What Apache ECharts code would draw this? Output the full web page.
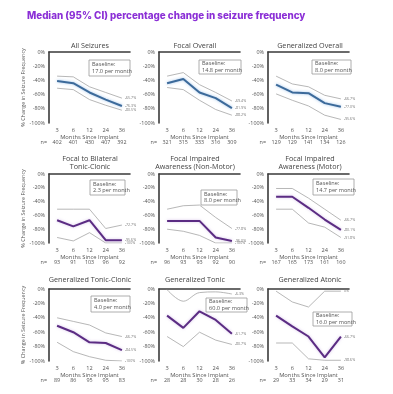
<!DOCTYPE html>
<html><head><meta charset="utf-8">
<script src="https://cdn.jsdelivr.net/npm/echarts@6/dist/echarts.min.js"></script>
<style>html,body{margin:0;padding:0;background:#fff}#c{width:393px;height:394px}</style>
</head><body><div id="c"></div>
<script>
// ---------- DATA ----------
const months = ['3', '6', '12', '24', '36'];
const chartTitle = 'Median (95% CI) percentage change in seizure frequency';
const panelTitles = ['All Seizures', 'Focal Overall', 'Generalized Overall',
  'Focal to Bilateral\nTonic-Clonic', 'Focal Impaired\nAwareness (Non-Motor)', 'Focal Impaired\nAwareness (Motor)',
  'Generalized Tonic-Clonic', 'Generalized Tonic', 'Generalized Atonic'];
const baselines = ['17.0', '14.8', '8.0', '2.3', '8.0', '14.7', '4.0', '60.0', '16.0'];

const allSeizuresMedian = [-41, -44, -57, -67, -76];
const allSeizuresUpper  = [-34, -35, -49, -57, -65];
const allSeizuresLower  = [-51, -53, -67, -75, -82];
const allSeizuresN      = [402, 401, 430, 407, 392];
const allSeizuresEnd    = ['-65.7%', '-76.3%', '-80.5%'];

const focalOverallMedian = [-44, -38, -57, -65, -79];
const focalOverallUpper  = [-34, -29, -46, -57, -69];
const focalOverallLower  = [-50, -53, -68, -81, -89];
const focalOverallN      = [321, 315, 333, 316, 309];
const focalOverallEnd    = ['-69.4%', '-81.9%', '-88.2%'];

const genOverallMedian = [-46, -57, -58, -72, -77];
const genOverallUpper  = [-34, -45, -49, -61, -66];
const genOverallLower  = [-59, -68, -76, -89, -95];
const genOverallN      = [129, 129, 141, 134, 126];
const genOverallEnd    = ['-66.7%', '-77.0%', '-95.6%'];

const fbtcMedian = [-67, -76, -67, -96, -96];
const fbtcUpper  = [-51, -51, -51, -79, -74];
const fbtcLower  = [-92, -97, -85, -100, -100];
const fbtcN      = [93, 91, 103, 96, 92];
const fbtcEnd    = ['-72.7%', '-95.6%', '-100%'];

const fiaNonMotorMedian = [-68, -68, -68, -92, -97];
const fiaNonMotorUpper  = [-51, -46, -45, -63, -79];
const fiaNonMotorLower  = [-80, -83, -89, -100, -100];
const fiaNonMotorN      = [96, 93, 93, 92, 90];
const fiaNonMotorEnd    = ['-77.8%', '-96.0%', '-100%'];

const fiaMotorMedian = [-33, -33, -49, -66, -81];
const fiaMotorUpper  = [-21, -21, -35, -51, -67];
const fiaMotorLower  = [-51, -51, -71, -77, -92];
const fiaMotorN      = [167, 165, 173, 161, 160];
const fiaMotorEnd    = ['-66.7%', '-80.1%', '-91.8%'];

const gtcMedian = [-51, -60, -74, -75, -85];
const gtcUpper  = [-40, -45, -50, -61, -66];
const gtcLower  = [-74, -87, -94, -99, -100];
const gtcN      = [89, 86, 95, 95, 83];
const gtcEnd    = ['-66.7%', '-84.5%', '-100%'];

const genTonicMedian = [-37, -54, -31, -43, -62];
const genTonicUpper  = [-1, -17, -5, -4, -7];
const genTonicLower  = [-66, -80, -60, -71, -77];
const genTonicN      = [28, 28, 30, 28, 26];
const genTonicEnd    = ['-6.3%', '-61.7%', '-80.7%'];

const genAtonicMedian = [-37, -52, -66, -95, -66];
const genAtonicUpper  = [-3, -18, -25, -3, -3];
const genAtonicLower  = [-75, -75, -97, -99, -99];
const genAtonicN      = [29, 33, 34, 29, 31];
const genAtonicEnd    = ['0%', '-66.7%', '-98.6%'];

const panels = [
  [allSeizuresMedian, allSeizuresUpper, allSeizuresLower, allSeizuresN, allSeizuresEnd],
  [focalOverallMedian, focalOverallUpper, focalOverallLower, focalOverallN, focalOverallEnd],
  [genOverallMedian, genOverallUpper, genOverallLower, genOverallN, genOverallEnd],
  [fbtcMedian, fbtcUpper, fbtcLower, fbtcN, fbtcEnd],
  [fiaNonMotorMedian, fiaNonMotorUpper, fiaNonMotorLower, fiaNonMotorN, fiaNonMotorEnd],
  [fiaMotorMedian, fiaMotorUpper, fiaMotorLower, fiaMotorN, fiaMotorEnd],
  [gtcMedian, gtcUpper, gtcLower, gtcN, gtcEnd],
  [genTonicMedian, genTonicUpper, genTonicLower, genTonicN, genTonicEnd],
  [genAtonicMedian, genAtonicUpper, genAtonicLower, genAtonicN, genAtonicEnd]
];

// ---------- LAYOUT / STYLE ----------
const FONT = 'Open Sans';
const colLeft = [49, 159, 268];
const colCenter = [90, 195, 310];
const rowTop = [52, 174, 289];
const rowHeight = [71, 69, 72];
const rowTitleY = [46, 163, 280];
const plotW = 81;
const boxes = [
  [89, 60, 41, 16], [199, 60, 42, 14], [312, 60, 39, 14],
  [90, 180, 35, 15], [201, 190, 36, 15], [313, 179, 41, 16],
  [91, 296, 39, 16], [206, 298, 41, 14], [313, 312, 39, 14]
];
const blue = '#3c6a9a', purple = '#5b2c83', ciColor = '#a5a5a5';

const grid = [], xAxis = [], yAxis = [], series = [], graphic = [];

graphic.push({type: 'text', left: 27, top: 11, style: {text: chartTitle, fill: '#8b2fd6',
  font: '800 9.8px Inter, "Open Sans", sans-serif'}});

panels.forEach((p, i) => {
  const r = Math.floor(i / 3), c = i % 3;
  const [med, up, lo, nArr, ends] = p;
  grid.push({left: colLeft[c], top: rowTop[r], width: plotW, height: rowHeight[r], containLabel: false});
  xAxis.push({
    gridIndex: i, type: 'category', data: months, boundaryGap: true,
    axisLine: {lineStyle: {color: '#3a3a3a', width: 1.6}}, axisTick: {show: false},
    axisLabel: {fontSize: 5.6, color: '#555', margin: 4, fontFamily: FONT},
    name: 'Months Since Implant', nameLocation: 'middle', nameGap: 11,
    nameTextStyle: {fontSize: 5.8, color: '#555', fontFamily: FONT}
  });
  xAxis.push({
    gridIndex: i, type: 'category', data: nArr.map(String), boundaryGap: true, position: 'bottom', offset: 17,
    axisLine: {show: false}, axisTick: {show: false},
    axisLabel: {fontSize: 5.4, color: '#555', margin: 0, fontFamily: FONT}
  });
  yAxis.push({
    gridIndex: i, type: 'value', min: -100, max: 0, interval: 20,
    axisLine: {show: true, lineStyle: {color: '#3a3a3a', width: 1.6}}, axisTick: {show: false},
    splitLine: {show: false},
    axisLabel: {fontSize: 5.4, color: '#555', margin: 4, formatter: '{value}%', fontFamily: FONT},
    name: c === 0 ? '% Change in Seizure Frequency' : '', nameLocation: 'middle', nameGap: 21,
    nameTextStyle: {fontSize: 5.4, color: '#555', fontFamily: FONT}
  });
  const mc = r === 0 ? blue : purple;
  const halo = r === 0 ? 'rgba(120,170,225,0.7)' : 'rgba(190,160,220,0.6)';
  const endLbl = (t) => ({show: true, formatter: t, fontSize: 3.6, color: '#777', distance: 3, fontFamily: FONT});
  series.push({type: 'line', xAxisIndex: 2 * i, yAxisIndex: i, data: up, symbol: 'none', silent: true,
    smooth: i === 7 ? 0.35 : false,
    lineStyle: {color: ciColor, width: 0.8}, endLabel: endLbl(ends[0])});
  series.push({type: 'line', xAxisIndex: 2 * i, yAxisIndex: i, data: lo, symbol: 'none', silent: true,
    lineStyle: {color: ciColor, width: 0.8}, endLabel: endLbl(ends[2])});
  series.push({type: 'line', xAxisIndex: 2 * i, yAxisIndex: i, data: med, symbol: 'none', silent: true,
    lineStyle: {color: mc, width: 2, shadowColor: halo, shadowBlur: 3}, endLabel: endLbl(ends[1])});

  graphic.push({type: 'text', x: colLeft[c] - 2, y: rowTop[r] + rowHeight[r] + 17, style: {text: 'n=', fill: '#555',
    font: '5.4px "Open Sans", sans-serif', textAlign: 'right', textVerticalAlign: 'top'}});
  graphic.push({type: 'text', x: colCenter[c], y: rowTitleY[r], style: {text: panelTitles[i], fill: '#444',
    font: '7.2px "Open Sans", sans-serif', textAlign: 'center', textVerticalAlign: 'middle', lineHeight: 8.5}});
  const b = boxes[i];
  graphic.push({type: 'rect', shape: {x: b[0], y: b[1], width: b[2], height: b[3]},
    style: {fill: '#fff', stroke: '#999', lineWidth: 0.8}, z: 10});
  graphic.push({type: 'text', x: b[0] + 3, y: b[1] + b[3] / 2, z: 11,
    style: {text: 'Baseline:\n' + baselines[i] + ' per month', fill: '#555',
      font: '5.6px "Open Sans", sans-serif', textVerticalAlign: 'middle', lineHeight: 6.6}});
});

const chart = echarts.init(document.getElementById('c'), null, {renderer: 'canvas'});
chart.setOption({backgroundColor: '#fff', animation: false, grid, xAxis, yAxis, series, graphic});
</script></body></html>
